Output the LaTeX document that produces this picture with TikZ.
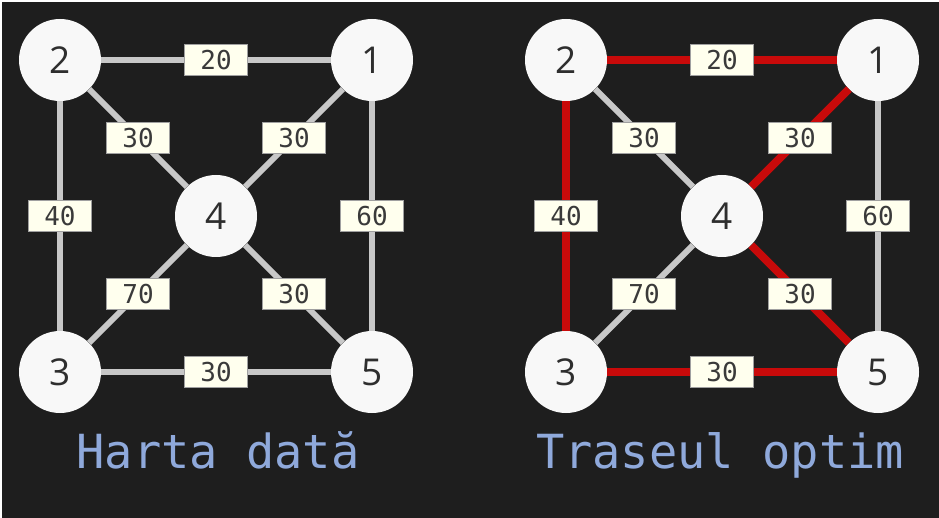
\documentclass[tikz,border=0pt]{standalone}
\usepackage{fontspec}
\setmonofont{DejaVu Sans Mono}
\newfontfamily\cityfont{Open Sans}
\usetikzlibrary{positioning}
\definecolor{bgGrey}{HTML}{1E1E1E}
\definecolor{edgeGrey}{HTML}{C8C8C8}
\definecolor{pathRed}{HTML}{C80A0A}
\definecolor{tagFill}{HTML}{FFFFEE}
\definecolor{tagLine}{HTML}{A0A0A0}
\definecolor{tagText}{HTML}{3A3A3A}
\definecolor{titleBlue}{HTML}{8FA9DB}
\definecolor{cityFill}{HTML}{F8F8F8}
\definecolor{cityText}{HTML}{2E2E2E}
\newcommand{\placeCities}[2]{%
  % Five cities of one map, shifted right by #2.
  \node[cityStyle] (#1two)   at (#2+60,60)   {2};
  \node[cityStyle] (#1one)   at (#2+372,60)  {1};
  \node[cityStyle] (#1four)  at (#2+216,216) {4};
  \node[cityStyle] (#1three) at (#2+60,372)  {3};
  \node[cityStyle] (#1five)  at (#2+372,372) {5};
}

\begin{document}
\begin{tikzpicture}[%
  x=1pt,y=-1pt,%
  cityStyle/.style={circle,fill=cityFill,minimum size=82pt,inner sep=0pt,
    text=cityText,font=\cityfont\fontsize{37}{40}\selectfont},%
  roadStyle/.style={-,line width=6pt,edgeGrey},%
  pathStyle/.style={-,line width=8pt,pathRed},%
  tagStyle/.style={draw=tagLine,line width=0.6pt,fill=tagFill,text=tagText,
    minimum width=63pt,minimum height=31pt,inner sep=0pt,
    font=\ttfamily\fontsize{26}{28}\selectfont},%
  titleStyle/.style={text=titleBlue,anchor=base,
    font=\ttfamily\fontsize{47}{50}\selectfont}%
]
%
% Frame and background.
\fill[white] (0,0) rectangle (939,518);
\fill[bgGrey] (2,2) rectangle (939,518);
\useasboundingbox (0,0) rectangle (939,518);
%
% The given map.
\placeCities{l}{0}
\draw[roadStyle] (ltwo) -- node[tagStyle] {20} (lone);
\draw[roadStyle] (ltwo) -- node[tagStyle] {30} (lfour);
\draw[roadStyle] (lone) -- node[tagStyle] {30} (lfour);
\draw[roadStyle] (ltwo) -- node[tagStyle] {40} (lthree);
\draw[roadStyle] (lone) -- node[tagStyle] {60} (lfive);
\draw[roadStyle] (lthree) -- node[tagStyle] {70} (lfour);
\draw[roadStyle] (lfour) -- node[tagStyle] {30} (lfive);
\draw[roadStyle] (lthree) -- node[tagStyle] {30} (lfive);
\node[titleStyle] (lTitle) at (218,468) {Harta dată};
%
% The optimal route.
\placeCities{r}{506}
\draw[pathStyle] (rtwo) -- node[tagStyle] {20} (rone);
\draw[roadStyle] (rtwo) -- node[tagStyle] {30} (rfour);
\draw[pathStyle] (rone) -- node[tagStyle] {30} (rfour);
\draw[pathStyle] (rtwo) -- node[tagStyle] {40} (rthree);
\draw[roadStyle] (rone) -- node[tagStyle] {60} (rfive);
\draw[roadStyle] (rthree) -- node[tagStyle] {70} (rfour);
\draw[pathStyle] (rfour) -- node[tagStyle] {30} (rfive);
\draw[pathStyle] (rthree) -- node[tagStyle] {30} (rfive);
\node[titleStyle] (rTitle) at (720,468) {Traseul optim};
\end{tikzpicture}
\end{document}
